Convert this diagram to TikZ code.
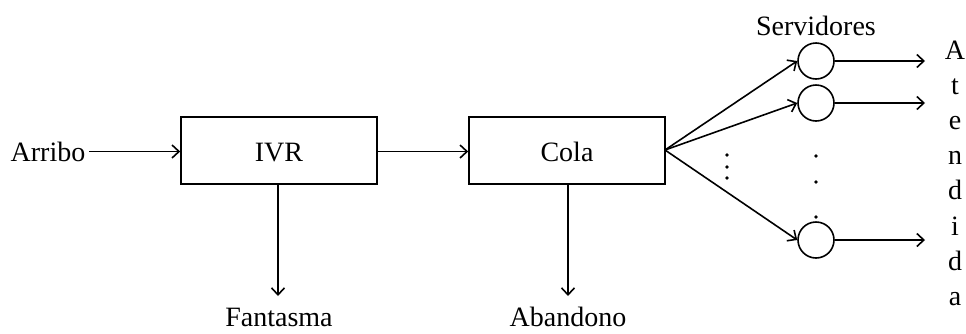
\documentclass[tikz,border=0pt]{standalone}
\usepackage{fontspec}
\setmainfont{Liberation Serif}
\usetikzlibrary{arrows.meta}
\begin{document}
\begin{tikzpicture}[x=1pt,y=-1pt,
  line width=1.6pt,
  every node/.style={font=\fontsize{28}{35}\selectfont, inner sep=0pt},
  arr/.style={-{Straight Barb[length=7pt,width=13pt,line width=1.6pt]}},
  blockbox/.style={draw, minimum width=196pt, minimum height=67pt},
  server/.style={draw, circle, minimum size=36pt},
  dotmark/.style={circle, fill, minimum size=3.6pt}]
\useasboundingbox (0,0) rectangle (966,333);
\node[anchor=base] (arribo) at (48,161) {Arribo};
\node[blockbox] (ivr) at (279,150.5) {};
\node[anchor=base] (ivrlabel) at (279,161) {IVR};
\node[blockbox] (cola) at (567,150.5) {};
\node[anchor=base] (colalabel) at (567,161) {Cola};
\node[anchor=base] (fantasma) at (279,326) {Fantasma};
\node[anchor=base] (abandono) at (568,326) {Abandono};
\coordinate (fend) at (278,296);
\coordinate (aend) at (568,296);
\draw[arr] (arribo.east |- 0,151.5) ++(3,0) coordinate (astart) -- (ivr.west |- astart);
\draw[arr] (ivr.east |- 0,151.5) -- (cola.west |- 0,151.5);
\draw[arr] (ivr.south -| fend) -- (fend);
\draw[arr] (cola.south -| aend) -- (aend);
\node[anchor=base] (servidores) at (816,35) {Servidores};
\node[server] (s1) at (816,61) {};
\node[server] (s2) at (816,103) {};
\node[server] (s3) at (816,240) {};
\coordinate (fan) at (665,150);
\draw[arr] (fan) -- (s1.west);
\draw[arr] (fan) -- (s2.west);
\draw[arr] (fan) -- (s3.west);
\coordinate (o1) at (925,61);
\coordinate (o2) at (925,103);
\coordinate (o3) at (925,240);
\draw[arr] (s1.east) -- (o1);
\draw[arr] (s2.east) -- (o2);
\draw[arr] (s3.east) -- (o3);
\node[dotmark] (d1) at (727,155) {};
\node[dotmark] (d2) at (727,167) {};
\node[dotmark] (d3) at (727,178) {};
\node[dotmark] (e1) at (816,156) {};
\node[dotmark] (e2) at (816,182) {};
\node[dotmark] (e3) at (816,217) {};
\foreach \ch [count=\i from 0] in {A,t,e,n,d,i,d,a}{
  \node[anchor=base] (at\i) at (955,59+35.2*\i) {\ch};
}
\end{tikzpicture}
\end{document}
